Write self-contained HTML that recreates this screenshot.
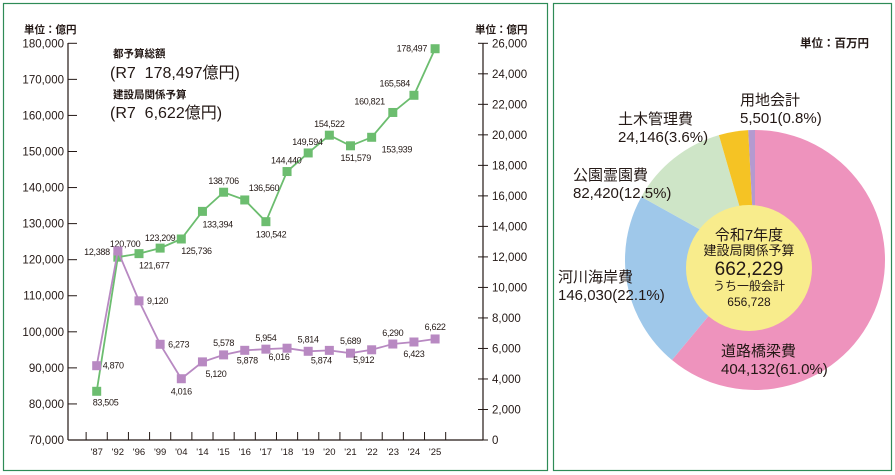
<!DOCTYPE html>
<html><head><meta charset="utf-8"><style>
body{margin:0;background:#fff;width:895px;height:475px;overflow:hidden;font-family:"Liberation Sans","Noto Sans CJK JP",sans-serif}
svg{position:absolute;left:0;top:0}
text{font-family:"Liberation Sans","Noto Sans CJK JP",sans-serif;fill:#231815;white-space:pre}
</style></head><body>
<svg width="895" height="475">
<rect x="3.5" y="3.5" width="544" height="467" fill="none" stroke="#2e8b57" stroke-width="1.2"/>
<rect x="553.5" y="3.5" width="338" height="467" fill="none" stroke="#2e8b57" stroke-width="1.2"/>
<g id="line"></g>
<g id="pie"></g>
</svg>
<script>
const categories=["'87","'92","'96","'99","'04","'14","'15","'16","'17","'18","'19","'20","'21","'22","'23","'24","'25"];
const totalBudget=[83505,120700,121677,123209,125736,133394,138706,136560,130542,144440,149594,154522,151579,153939,160821,165584,178497];
const constructionBudget=[4870,12388,9120,6273,4016,5120,5578,5878,5954,6016,5814,5874,5689,5912,6290,6423,6622];
const leftTicks=[70000,80000,90000,100000,110000,120000,130000,140000,150000,160000,170000,180000];
const rightTicks=[0,2000,4000,6000,8000,10000,12000,14000,16000,18000,20000,22000,24000,26000];
const pieLabels=["道路橋梁費","河川海岸費","公園霊園費","土木管理費","用地会計"];
const pieValues=[404132,146030,82420,24146,5501];
const piePct=["61.0","22.1","12.5","3.6","0.8"];

const NS="http://www.w3.org/2000/svg";
function mk(parent,tag,attrs,txt){const e=document.createElementNS(NS,tag);for(const k in attrs)e.setAttribute(k,attrs[k]);if(txt!==undefined)e.textContent=txt;parent.appendChild(e);return e;}
const fmt=v=>v.toLocaleString("en-US");
const L=document.getElementById("line");
const yL=v=>440-(v-70000)/110000*396.7;
const yR=v=>440-v/26000*396.7;
const x0=96.7,dx=21.15;
const xC=i=>x0+i*dx;
let e=mk(L,"line",{x1:68,y1:43,x2:68,y2:440,stroke:"#231815","stroke-width":1.2});


e=mk(L,"line",{x1:483,y1:43,x2:483,y2:440,stroke:"#231815","stroke-width":1.2});


e=mk(L,"line",{x1:68,y1:440,x2:483,y2:440,stroke:"#231815","stroke-width":1.2});


leftTicks.forEach(v=>{
  mk(L,"line",{x1:68,y1:yL(v),x2:77,y2:yL(v),stroke:"#231815","stroke-width":1});
  e=mk(L,"text",{x:64,y:yL(v)+4,"text-anchor":"end","font-size":11.5},fmt(v));
  
  
});
rightTicks.forEach(v=>{
  mk(L,"line",{x1:478,y1:yR(v),x2:488,y2:yR(v),stroke:"#231815","stroke-width":1});
  e=mk(L,"text",{x:492,y:yR(v)+4,"font-size":11.5},fmt(v));
  
  
});
e=mk(L,"text",{x:24,y:33,"font-size":10.5,"font-weight":"bold"},"単位：億円");


e=mk(L,"text",{x:475,y:33,"font-size":10.5,"font-weight":"bold"},"単位：億円");


categories.forEach((c,i)=>{
  const bx=xC(i)+dx/2;
  mk(L,"line",{x1:bx,y1:432,x2:bx,y2:440,stroke:"#231815","stroke-width":1});
  e=mk(L,"text",{x:xC(i),y:455,"text-anchor":"middle","font-size":9.5},c);
  
  
});
mk(L,"line",{x1:xC(0)-dx/2,y1:432,x2:xC(0)-dx/2,y2:440,stroke:"#231815","stroke-width":1});
[[113,57,10.5,"bold","都予算総額"],[110,78,16,"normal","(R7  178,497億円)"],[113,98,10.5,"bold","建設局関係予算"],[110,118,16,"normal","(R7  6,622億円)"]].forEach(a=>{
  e=mk(L,"text",{x:a[0],y:a[1],"font-size":a[2],"font-weight":a[3],"xml:space":"preserve"},a[4]);
  
  
});
function series(vals,yf,color,name,offs){
  const pts=vals.map((v,i)=>xC(i)+","+yf(v)).join(" ");
  const pl=mk(L,"polyline",{points:pts,fill:"none",stroke:color,"stroke-width":1.8});
  
  
  vals.forEach((v,i)=>{
    const r=mk(L,"rect",{x:xC(i)-4.5,y:yf(v)-4.5,width:9,height:9,fill:color});
    
    
    const o=offs[i];
    const t=mk(L,"text",{x:xC(i)+o[0],y:yf(v)+o[1],"font-size":9,"text-anchor":o[2],"letter-spacing":"-0.3"},fmt(v));
    
    
  });
}
const gOff=[[-4,14,"start"],[-8,-10,"start"],[0,15,"start"],[0,-7,"middle"],[0,15,"start"],[0,16,"start"],[0,-8,"middle"],[4,-9,"start"],[-10,16,"start"],[-16,-8,"start"],[-16,-8,"start"],[0,-8,"middle"],[-10,15,"start"],[10,15,"start"],[-8,-8,"end"],[-4,-9,"end"],[-8,3,"end"]];
const pOff=[[6,3,"start"],[-8,4,"end"],[8,3,"start"],[8,3,"start"],[0,16,"middle"],[3,15,"start"],[0,-9,"middle"],[-8,13,"start"],[0,-8,"middle"],[-8,12,"middle"],[0,-9,"middle"],[-8,13,"middle"],[0,-9,"middle"],[-8,13,"middle"],[0,-8,"middle"],[0,15,"middle"],[0,-9,"middle"]];
series(totalBudget,yL,"#6cbd6f","total-budget",gOff);
series(constructionBudget,yR,"#b889c2","construction-budget",pOff);

const P=document.getElementById("pie");
const cx=755,cy=260,R=130;
const colors=["#ee93bd","#9fc8ea","#cee5c7","#f5c324","#b49ad0"];
const total=pieValues.reduce((a,b)=>a+b,0);
let ang=0;
pieValues.forEach((v,i)=>{
  const a0=ang,a1=ang+v/total*2*Math.PI;ang=a1;
  const p=(a)=>[cx+R*Math.sin(a),cy-R*Math.cos(a)];
  const [sx,sy]=p(a0),[ex,ey]=p(a1);
  const s=mk(P,"path",{d:`M${cx},${cy}L${sx},${sy}A${R},${R} 0 ${a1-a0>Math.PI?1:0} 1 ${ex},${ey}Z`,fill:colors[i]});
  
  
});
e=mk(P,"circle",{cx:749,cy:268,r:63,fill:"#f8ec8c"});


[[749,240,15,"令和7年度"],[749,255,13,"建設局関係予算"],[749,275,19,"662,229"],[749,290,12,"うち一般会計"],[749,306,12,"656,728"]].forEach(a=>{
  e=mk(P,"text",{x:a[0],y:a[1],"text-anchor":"middle","font-size":a[2]},a[3]);
  
  
});
const lp=[[721,356],[558,282],[573,180],[618,124],[740,105]];
pieLabels.forEach((n,i)=>{
  e=mk(P,"text",{x:lp[i][0],y:lp[i][1],"font-size":15},n);
  
  
  e=mk(P,"text",{x:lp[i][0],y:lp[i][1]+18,"font-size":15},fmt(pieValues[i])+"("+piePct[i]+"%)");
  
  
});
e=mk(P,"text",{x:800,y:47,"font-size":11.5,"font-weight":"bold"},"単位：百万円");


</script>
</body></html>
